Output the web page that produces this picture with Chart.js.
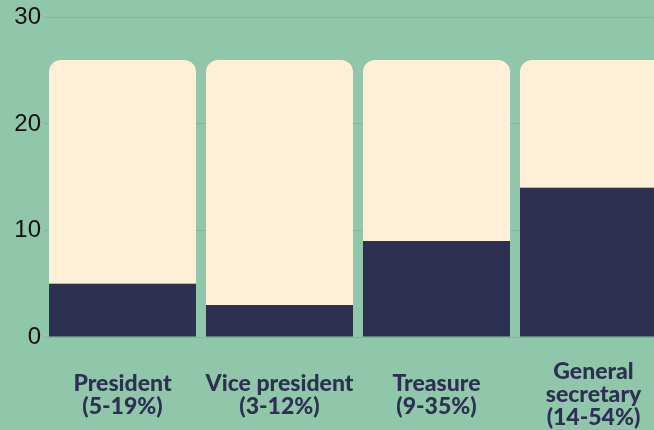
<!DOCTYPE html>
<html><head><meta charset="utf-8">
<script src="https://cdn.jsdelivr.net/npm/chart.js@4"></script>
<style>
html,body{margin:0;padding:0;background:#90c7ab;overflow:hidden;width:654px;height:430px}
#wrap{position:absolute;left:0;top:0;width:690px;height:430px}
</style></head><body>
<div id="wrap"><canvas id="c" width="690" height="430"></canvas></div>
<script>
const categories = [["President","(5-19%)"],["Vice president","(3-12%)"],["Treasure","(9-35%)"],["General","secretary","(14-54%)"]];
const darkValues = [5, 3, 9, 14];
const lightValues = [21, 23, 17, 12];
const yTicks = [0, 10, 20, 30];

new Chart(document.getElementById('c'), {
  type: 'bar',
  data: {
    labels: categories,
    datasets: [
      {data: darkValues, backgroundColor: '#2e3052', borderWidth: 0, borderRadius: 0,
       categoryPercentage: 1, barPercentage: 147/157},
      {data: lightValues, backgroundColor: '#ffefd6', borderWidth: 0,
       borderRadius: {topLeft: 12, topRight: 12, bottomLeft: 0, bottomRight: 0}, borderSkipped: false,
       categoryPercentage: 1, barPercentage: 147/157}
    ]
  },
  options: {
    responsive: false, animation: false,
    layout: {padding: {top: 17, right: 18, left: 0, bottom: 0}},
    plugins: {legend: {display: false}, tooltip: {enabled: false}},
    scales: {
      x: {
        stacked: true,
        grid: {display: false},
        border: {display: false},
        afterFit: s => { s.height = 93; },
        ticks: {color: '#2e3052', crossAlign: 'center', padding: 27,
          font: {family: 'Lato', weight: '900', size: 23, lineHeight: 1.0}}
      },
      y: {
        stacked: true, min: 0, max: 30,
        afterFit: s => { s.width = 44; },
        afterBuildTicks: s => { s.ticks = yTicks.map(v => ({value: v})); },
        grid: {color: '#7db898', lineWidth: 1, drawTicks: false},
        border: {display: false},
        ticks: {color: '#111111', padding: 3, font: {family: 'Liberation Sans', size: 24}}
      }
    }
  }
});
</script>
</body></html>
